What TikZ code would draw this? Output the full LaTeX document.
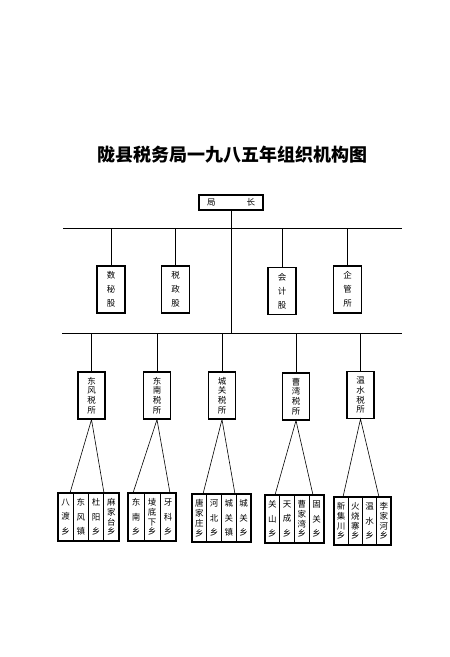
\documentclass[tikz,border=0pt]{standalone}
\usepackage{fontspec}
\setmainfont{Noto Sans CJK SC}
\begin{document}
\begin{tikzpicture}[x=1pt,y=-1pt,
  boxstyle/.style={draw, line width=1.1pt, inner sep=0pt, align=center},
  dept/.style={boxstyle, minimum width=28pt, minimum height=47pt, font=\fontsize{8.5}{14}\selectfont},
  office/.style={boxstyle, minimum width=27pt, minimum height=47pt, font=\fontsize{8.5}{9.8}\selectfont},
  col/.style={draw, line width=0.6pt, inner sep=0pt, align=center, minimum height=48pt},
  threec/.style={col, font=\fontsize{8.5}{14.5}\selectfont},
  fourc/.style={col, font=\fontsize{8.5}{9.8}\selectfont},
  grp/.style={draw, line width=1.1pt, inner sep=0pt, minimum height=48pt},
  bus/.style={line width=1pt},
  link/.style={line width=0.9pt},
  fan/.style={line width=0.6pt}]
\useasboundingbox (0,0) rectangle (450,657);
\fill[white] (0,0) rectangle (450,657);

% title
\node[font=\fontsize{18}{20}\selectfont\bfseries] (title) at (232.5,155) {陇县税务局一九八五年组织机构图};

% chief
\node[boxstyle, minimum width=64pt, minimum height=15pt, font=\fontsize{8.5}{10}\selectfont] (chief) at (231,202.5) {局\hspace{31pt}长};

% buses
\coordinate (b1L) at (63,228);
\coordinate (b1R) at (402,228);
\coordinate (b2L) at (62,333);
\coordinate (b2R) at (402,333);
\draw[bus] (b1L) -- (b1R);
\draw[bus] (b2L) -- (b2R);
\draw[link] (chief.south) -- (chief.south |- b2L);

% departments
\node[dept] (d1) at (111,289.5) {数\\秘\\股};
\node[dept] (d2) at (175.5,289.5) {税\\政\\股};
\node[dept] (d3) at (282,291) {会\\计\\股};
\node[dept] (d4) at (347.5,289.5) {企\\管\\所};
\foreach \d in {d1,d2,d3,d4} \draw[link] (\d.north) -- (\d.north |- b1L);

% tax offices
\node[office] (t1) at (91.5,395.5) {东\\风\\税\\所};
\node[office] (t2) at (157,395.5) {东\\南\\税\\所};
\node[office] (t3) at (222,395.5) {城\\关\\税\\所};
\node[office] (t4) at (296,396.5) {曹\\湾\\税\\所};
\node[office] (t5) at (360.5,395) {温\\水\\税\\所};
\foreach \t in {t1,t2,t3,t4,t5} \draw[link] (\t.north) -- (\t.north |- b2L);

% group 1
\node[threec, minimum width=15.25pt] (g1a) at (65.6,517) {八\\渡\\乡};
\node[threec, minimum width=15.25pt] (g1b) at (80.9,517) {东\\风\\镇};
\node[threec, minimum width=15.25pt] (g1c) at (96.1,517) {杜\\阳\\乡};
\node[fourc, minimum width=15.25pt] (g1d) at (111.4,517) {麻\\家\\台\\乡};
\node[grp, minimum width=61pt] (g1) at (88.5,517) {};
% group 2
\node[threec, minimum width=16pt] (g2a) at (136,517) {东\\南\\乡};
\node[fourc, minimum width=16pt] (g2b) at (152,517) {堎\\底\\下\\乡};
\node[threec, minimum width=16pt] (g2c) at (168,517) {牙\\科\\乡};
\node[grp, minimum width=48pt] (g2) at (152,517) {};
% group 3
\node[fourc, minimum width=14.75pt] (g3a) at (199.4,518) {唐\\家\\庄\\乡};
\node[threec, minimum width=14.75pt] (g3b) at (214.1,518) {河\\北\\乡};
\node[threec, minimum width=14.75pt] (g3c) at (228.9,518) {城\\关\\镇};
\node[threec, minimum width=14.75pt] (g3d) at (243.6,518) {城\\关\\乡};
\node[grp, minimum width=59pt] (g3) at (221.5,518) {};
% group 4
\node[threec, minimum width=14.75pt] (g4a) at (272.4,519) {关\\山\\乡};
\node[threec, minimum width=14.75pt] (g4b) at (287.1,519) {天\\成\\乡};
\node[fourc, minimum width=14.75pt] (g4c) at (301.9,519) {曹\\家\\湾\\乡};
\node[threec, minimum width=14.75pt] (g4d) at (316.6,519) {固\\关\\乡};
\node[grp, minimum width=59pt] (g4) at (294.5,519) {};
% group 5
\node[fourc, minimum width=14.25pt] (g5a) at (341.1,521) {新\\集\\川\\乡};
\node[fourc, minimum width=14.25pt] (g5b) at (355.4,521) {火\\烧\\寨\\乡};
\node[threec, minimum width=14.25pt] (g5c) at (369.6,521) {温\\水\\乡};
\node[fourc, minimum width=14.25pt] (g5d) at (383.9,521) {李\\家\\河\\乡};
\node[grp, minimum width=57pt] (g5) at (362.5,521) {};

% fan connectors
\coordinate (f1a) at (70,493);  \coordinate (f1b) at (104,493);
\coordinate (f2a) at (133,493); \coordinate (f2b) at (170,493);
\coordinate (f3a) at (203,494); \coordinate (f3b) at (235,494);
\coordinate (f4a) at (275,495); \coordinate (f4b) at (313,495);
\coordinate (f5a) at (343,497); \coordinate (f5b) at (379,497);
\draw[fan] (f1a) -- (t1.south) -- (f1b);
\draw[fan] (f2a) -- (t2.south) -- (f2b);
\draw[fan] (f3a) -- (t3.south) -- (f3b);
\draw[fan] (f4a) -- (t4.south) -- (f4b);
\draw[fan] (f5a) -- (t5.south) -- (f5b);
\end{tikzpicture}
\end{document}
